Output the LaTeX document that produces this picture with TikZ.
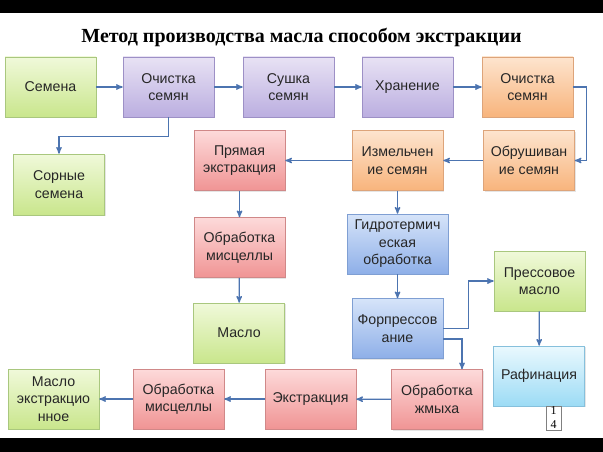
\documentclass[tikz,border=0pt]{standalone}
\usepackage{fontspec}
\setmainfont{Liberation Serif}
\setsansfont{Liberation Sans}
\usepackage{xcolor}
\usepackage{tikz}
\usetikzlibrary{arrows}
\usetikzlibrary{shadows}

\definecolor{arrcol}{HTML}{4C74B0}
\definecolor{txtcol}{HTML}{262626}
\definecolor{grtop}{HTML}{F0F9DA}\definecolor{grbot}{HTML}{C9E68C}\definecolor{grline}{HTML}{A9C77E}
\definecolor{vitop}{HTML}{E8E2F4}\definecolor{vibot}{HTML}{BBAEE0}\definecolor{viline}{HTML}{9D90C6}
\definecolor{ortop}{HTML}{FDE4CE}\definecolor{orbot}{HTML}{F8B47C}\definecolor{orline}{HTML}{DDA47A}
\definecolor{rdtop}{HTML}{FDDADA}\definecolor{rdbot}{HTML}{F09494}\definecolor{rdline}{HTML}{D08888}
\definecolor{bltop}{HTML}{D6E4F9}\definecolor{blbot}{HTML}{8EAFE8}\definecolor{blline}{HTML}{7F9FD3}
\definecolor{cytop}{HTML}{EAF9FE}\definecolor{cybot}{HTML}{9CDBF5}\definecolor{cyline}{HTML}{86C0DC}

\begin{document}
\begin{tikzpicture}[x=1pt,y=-1pt,->,>=stealth',line width=1.3pt,draw=arrcol]
	\tikzstyle{box}=[-,draw,line width=0.6pt,rectangle,align=center,inner sep=0pt,
		minimum width=91pt,minimum height=60pt,text=txtcol,
		font=\sffamily\fontsize{14.2}{17.5}\selectfont,
		drop shadow={shadow xshift=1.2pt,shadow yshift=-1.2pt,opacity=.2}]
	\tikzstyle{grbox}=[box,draw=grline,top color=grtop,bottom color=grbot]
	\tikzstyle{vibox}=[box,draw=viline,top color=vitop,bottom color=vibot]
	\tikzstyle{orbox}=[box,draw=orline,top color=ortop,bottom color=orbot]
	\tikzstyle{rdbox}=[box,draw=rdline,top color=rdtop,bottom color=rdbot]
	\tikzstyle{blbox}=[box,draw=blline,top color=bltop,bottom color=blbot]
	\tikzstyle{cybox}=[box,draw=cyline,top color=cytop,bottom color=cybot]
	\useasboundingbox (0,0) rectangle (603,452);
	\fill[-,white] (0,0) rectangle (603,452);
	\fill[-,black] (0,0) rectangle (603,12.7);
	\fill[-,black] (0,438) rectangle (603,452);
	\node[font=\bfseries\fontsize{20}{24}\selectfont] (title) at (301.5,37) {Метод производства масла способом экстракции};

	\node[grbox] (sem)   at (50.5,87)   {Семена};
	\node[vibox] (oc1)   at (168.5,87)  {Очистка\\семян};
	\node[vibox] (sush)  at (288.5,87)  {Сушка\\семян};
	\node[vibox] (hran)  at (407.5,87)  {Хранение};
	\node[orbox] (oc2)   at (527.5,87)  {Очистка\\семян};
	\node[grbox,minimum height=61pt] (sor) at (59,184.5) {Сорные\\семена};
	\node[rdbox] (pryam) at (239.5,160.5) {Прямая\\экстракция};
	\node[orbox] (izm)   at (397.5,160.5) {Измельчен\\ие семян};
	\node[orbox] (obr)   at (529,160.5)   {Обрушиван\\ие семян};
	\node[rdbox] (obm1)  at (239.5,247.5) {Обработка\\мисцеллы};
	\node[blbox,minimum width=101pt] (gidro) at (397.5,244) {Гидротермич\\еская\\обработка};
	\node[grbox] (maslo) at (239,333)   {Масло};
	\node[blbox] (forp)  at (397.5,328.5) {Форпрессов\\ание};
	\node[grbox] (press) at (539.5,281) {Прессовое\\масло};
	\node[cybox] (raf)   at (539,376)   {Рафинация};
	\node[grbox] (mext)  at (53.5,399)  {Масло\\экстракцио\\нное};
	\node[rdbox] (obm2)  at (178.5,399) {Обработка\\мисцеллы};
	\node[rdbox] (ekst)  at (310.5,399) {Экстракция};
	\node[rdbox] (zhm)   at (437,399.5) {Обработка\\жмыха};
	\node[-,draw=gray,line width=0.5pt,fill=white,inner sep=0pt,minimum width=15pt,minimum height=24pt,
		align=center,font=\fontsize{12}{14}\selectfont] (pnum) at (553.5,418) {1\\4};

	\path
		(sem) edge (oc1)
		(oc1) edge (sush)
		(sush) edge (hran)
		(hran) edge (oc2)
		(obr) edge (izm)
		(izm) edge (pryam)
		(pryam) edge (obm1)
		(obm1) edge (maslo)
		(izm) edge (gidro)
		(gidro) edge (forp)
		(press) edge (raf)
		(zhm) edge (ekst)
		(ekst) edge (obm2)
		(obm2) edge (mext);
	\draw (oc1.south) -- ++(0,19) -| (sor.north);
	\draw (oc2.east) -- ++(13,0) |- (obr.east);
	\draw (forp.east) -- ++(25,0) |- (press.west);
	\draw ([yshift=-10.5pt]forp.east) -| ([xshift=25pt]zhm.north);
\end{tikzpicture}
\end{document}
